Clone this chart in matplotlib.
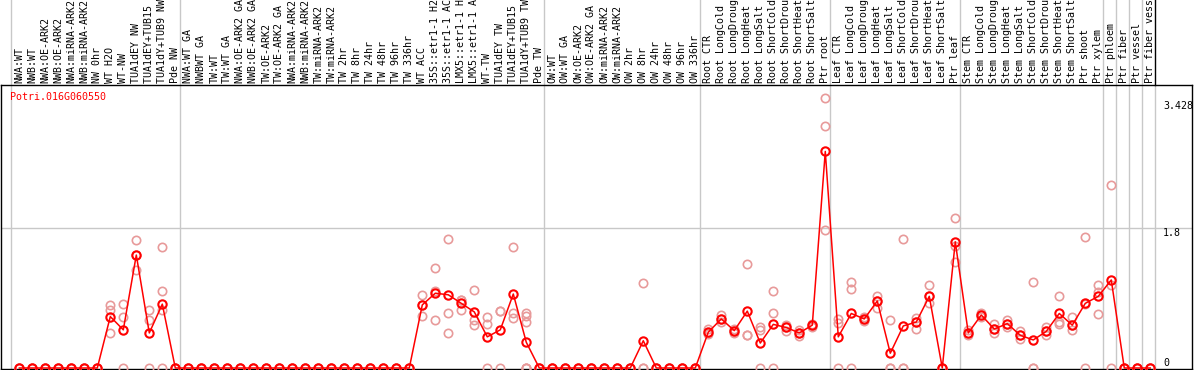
import numpy as np
import matplotlib
matplotlib.use("Agg")
import matplotlib.pyplot as plt

# Sample labels, by group
nw_labels = ["NWA:WT", "NWB:WT", "NWA:OE-ARK2", "NWB:OE-ARK2", "NWA:miRNA-ARK2",
             "NWB:miRNA-ARK2", "NW 0hr", "WT H2O", "WT-NW", "TUA1dEY NW",
             "TUA1dEY+TUB15 NW", "TUA1dY+TUB9 NW", "Pde NW"]
tw_labels = ["NWA:WT GA", "NWBWT GA", "TW:WT", "TW:WT GA", "NWA:OE-ARK2 GA",
             "NWB:OE-ARK2 GA", "TW:OE-ARK2", "TW:OE-ARK2 GA", "NWA:miRNA-ARK2",
             "NWB:miRNA-ARK2", "TW:miRNA-ARK2", "TW:miRNA-ARK2", "TW 2hr", "TW 8hr",
             "TW 24hr", "TW 48hr", "TW 96hr", "TW 336hr", "WT ACC", "35S::etr1-1 H2O",
             "35S::etr1-1 ACC", "LMX5::etr1-1 H2O", "LMX5::etr1-1 ACC", "WT-TW",
             "TUA1dEY TW", "TUA1dEY+TUB15 TW", "TUA1dY+TUB9 TW", "Pde TW"]
ow_labels = ["OW:WT", "OW:WT GA", "OW:OE-ARK2", "OW:OE-ARK2 GA", "OW:miRNA-ARK2",
             "OW:miRNA-ARK2", "OW 2hr", "OW 8hr", "OW 24hr", "OW 48hr", "OW 96hr",
             "OW 336hr"]
root_labels = ["Root CTR", "Root LongCold", "Root LongDrought", "Root LongHeat",
               "Root LongSalt", "Root ShortCold", "Root ShortDrought", "Root ShortHeat",
               "Root ShortSalt", "Ptr root"]
leaf_labels = ["Leaf CTR", "Leaf LongCold", "Leaf LongDrought", "Leaf LongHeat",
               "Leaf LongSalt", "Leaf ShortCold", "Leaf ShortDrought", "Leaf ShortHeat",
               "Leaf ShortSalt", "Ptr leaf"]
stem_labels = ["Stem CTR", "Stem LongCold", "Stem LongDrought", "Stem LongHeat",
               "Stem LongSalt", "Stem ShortCold", "Stem ShortDrought", "Stem ShortHeat",
               "Stem ShortSalt", "Ptr shoot", "Ptr xylem"]
ptr_labels = ["Ptr phloem", "Ptr fiber", "Ptr vessel", "Ptr fiber vessel"]

# Mean expression, by group
nw_mean = [0, 0, 0, 0, 0, 0, 0, 0.66, 0.49, 1.45, 0.45, 0.82, 0]
tw_mean = [0] * 18 + [0.81, 0.96, 0.94, 0.83, 0.72, 0.40, 0.49, 0.95, 0.33, 0]
ow_mean = [0, 0, 0, 0, 0, 0, 0, 0.35, 0, 0, 0, 0]
root_mean = [0.46, 0.63, 0.48, 0.73, 0.32, 0.56, 0.52, 0.45, 0.55, 2.78]
leaf_mean = [0.40, 0.70, 0.63, 0.86, 0.19, 0.54, 0.59, 0.92, 0, 1.62]
stem_mean = [0.45, 0.68, 0.50, 0.57, 0.42, 0.36, 0.47, 0.70, 0.55, 0.83, 0.92]
ptr_mean = [1.13, 0, 0, 0]

# Replicate values (non-zero samples only; the rest are zeros)
replicates = {
    7: [0.81, 0.75, 0.45], 8: [0.82, 0.65, 0], 9: [1.64, 1.45, 1.26],
    10: [0.74, 0.62, 0], 11: [1.55, 0.99, 0.75, 0],
    31: [0.94, 0.81, 0.67], 32: [1.29, 0.99, 0.62], 33: [1.65, 0.70, 0.45],
    34: [0.87, 0.87, 0.74], 35: [1.00, 0.61, 0.55], 36: [0.66, 0.57, 0],
    37: [0.73, 0.73, 0], 38: [1.55, 0.70, 0.64], 39: [0.71, 0.67, 0.59, 0, 0, 0],
    48: [1.09, 0, 0],
    53: [0.50, 0.45, 0.44], 54: [0.68, 0.63, 0.59], 55: [0.50, 0.48, 0.45],
    56: [1.34, 0.43, 0.42], 57: [0.53, 0.49, 0], 58: [0.99, 0.70, 0],
    59: [0.55, 0.52, 0.47], 60: [0.49, 0.45, 0.41], 61: [0.56, 0.55, 0.53],
    62: [3.46, 3.11, 1.77],
    63: [0.63, 0.58, 0], 64: [1.10, 1.02, 0], 65: [0.65, 0.63, 0.60],
    66: [0.92, 0.86, 0.77], 67: [0.61, 0, 0], 68: [1.66, 0, 0],
    69: [0.64, 0.59, 0.50], 70: [1.06, 0.92, 0.84], 72: [1.93, 1.56, 1.36],
    73: [0.49, 0.45, 0.42], 74: [0.70, 0.68, 0.66], 75: [0.56, 0.50, 0.45],
    76: [0.61, 0.57, 0.53], 77: [0.48, 0.42, 0.37], 78: [1.10, 0, 0],
    79: [0.53, 0.47, 0.42], 80: [0.93, 0.59, 0.56], 81: [0.66, 0.55, 0.49],
    82: [1.68, 0.82, 0], 83: [1.07, 0.97, 0.69], 84: [2.35, 1.07, 0],
}

y_ticks = [0, 1.8, 3.428]
y_tick_labels = ["0", "1.8", "3.428"]
gene = "Potri.016G060550"

groups = [nw_labels, tw_labels, ow_labels, root_labels, leaf_labels, stem_labels]
labels = sum(groups, []) + ptr_labels
means = nw_mean + tw_mean + ow_mean + root_mean + leaf_mean + stem_mean + ptr_mean
x = np.arange(len(labels))

W, H = 1194, 370
fig = plt.figure(figsize=(W / 100, H / 100), dpi=100)
ax = fig.add_axes([1 / W, 1 / H, 1191 / W, 284 / H])
mono = "DejaVu Sans Mono"
gray = "#c8c8c8"

# replicates
for i in x:
    vals = replicates.get(int(i), [0, 0, 0])
    ax.plot([i] * len(vals), vals, linestyle="none", marker="o", ms=6, mfc="none",
            mec="#e89a9a", mew=1.2, zorder=3, clip_on=True)

ax.plot(x, means, color="red", lw=1.1, zorder=4)
ax.plot(x, means, linestyle="none", marker="o", ms=6, mfc="none", mec="red",
        mew=1.5, zorder=5)

ax.set_xlim(-1.408, 90.21)
ax.set_ylim(-0.0128, 3.633)

# group separators
bounds = np.cumsum([len(g) for g in groups])
seps = [-1] + list(bounds - 1) + [len(labels) - 4, len(labels) - 3, len(labels) - 2]
top = 369 / 284
for s in seps:
    ax.axvline(s + 0.385, ymin=0, ymax=top, color=gray, lw=1, clip_on=False, zorder=1)
ax.axvline(len(labels) - 1 + 0.385, ymin=0, ymax=1, color=gray, lw=1, zorder=1)
ax.axvline(len(labels) - 1 + 0.385, ymin=1, ymax=top, color="black", lw=1,
           clip_on=False, zorder=1)

ax.axhline(1.8, color=gray, lw=1, zorder=1)

ax.xaxis.tick_top()
ax.set_xticks(x)
ax.set_xticklabels(labels, rotation=90, fontsize=7.2, family=mono)
ax.tick_params(axis="x", length=0, pad=1.5)
ax.set_yticks([])

for v, t in zip(y_ticks, y_tick_labels):
    ax.text(0.9757, v, t, transform=ax.get_yaxis_transform(), fontsize=7.2,
            family=mono, ha="left", va="bottom" if v == 0 else "top")

ax.text(9 / 1191, (369 - 97) / 284, gene, transform=ax.transAxes, color="red",
        fontsize=7.2, family=mono, ha="left", va="center")

for sp in ax.spines.values():
    sp.set_color("black")
    sp.set_linewidth(1)

fig.savefig("out.png", dpi=100)
